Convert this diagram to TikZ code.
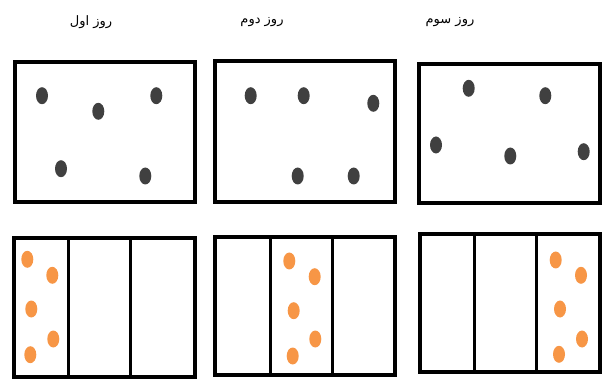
\documentclass[tikz,border=0pt]{standalone}
\usepackage{fontspec}
\newfontfamily\arabicfont[Script=Arabic]{DejaVu Sans}
\TeXXeTstate=1
\definecolor{grisPunto}{RGB}{64,64,64}
\definecolor{naranjaPunto}{RGB}{247,150,70}

\begin{document}
\begin{tikzpicture}[
    x=1pt, y=-1pt,
    every node/.style={font=\arabicfont\fontsize{13}{15}\selectfont},
    % Marco exterior de cada caja
    caja/.style={line width=4pt, draw=black},
    % Separadores verticales de las cajas inferiores
    divisor/.style={line width=3pt, draw=black},
    % Puntos
    puntoGris/.style={fill=grisPunto},
    puntoNaranja/.style={fill=naranjaPunto}
]
    % --- PARÁMETROS ---
    \def\rx{6}
    \def\ry{8.5}

    \useasboundingbox (0,0) rectangle (602,379);

    % 1. TÍTULOS
    \node (titulo1) at (91,22) {\beginR روز اول\endR};
    \node (titulo2) at (262,22) {\beginR روز دوم\endR};
    \node (titulo3) at (450,22) {\beginR روز سوم\endR};

    % 2. CAJAS SUPERIORES
    \draw[caja] (14.7,62) rectangle (194.7,202);
    \draw[caja] (215.3,61.3) rectangle (395.3,202);
    \draw[caja] (419.3,63.7) rectangle (599.7,203);

    % 3. PUNTOS GRISES
    \foreach \px/\py in {42/95.7, 98.3/111.3, 156.3/95.7, 61/168.7, 145.3/176,
                         250.7/95.7, 303.7/95.7, 373.3/103.3, 297.7/176, 353.7/176,
                         468.7/88.3, 545.3/95.7, 436/145, 510.3/156, 583.7/151.7}
        \fill[puntoGris] (\px,\py) ellipse [x radius=\rx, y radius=\ry];

    % 4. CAJAS INFERIORES
    \draw[caja] (13.7,237.7) rectangle (194.7,377);
    \draw[divisor] (68.7,237.7) -- (68.7,377);
    \draw[divisor] (130,237.7) -- (130,377);

    \draw[caja] (215.3,237) rectangle (394.7,374.7);
    \draw[divisor] (270,237) -- (270,374.7);
    \draw[divisor] (332,237) -- (332,374.7);

    \draw[caja] (420.3,233.7) rectangle (599.7,372.3);
    \draw[divisor] (474.7,233.7) -- (474.7,372.3);
    \draw[divisor] (536.7,233.7) -- (536.7,372.3);

    % 5. PUNTOS NARANJAS
    \foreach \px/\py in {27.3/259.3, 52.3/275.3, 31.3/309, 53.3/339, 30.3/354.7,
                         289.3/261, 314.7/276.7, 293.7/310.7, 315.3/339, 292.7/356,
                         555.7/260, 581/275.3, 560/309, 582/339, 559/354.3}
        \fill[puntoNaranja] (\px,\py) ellipse [x radius=\rx, y radius=\ry];

\end{tikzpicture}
\end{document}
